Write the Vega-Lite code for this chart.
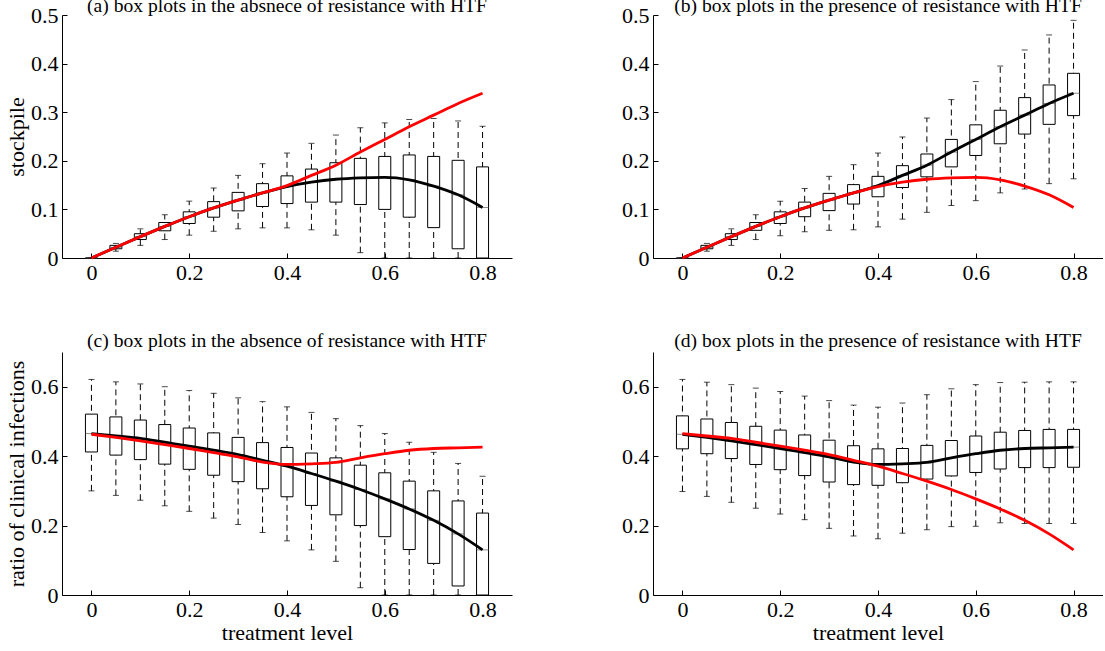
{
  "$schema": "https://vega.github.io/schema/vega-lite/v6.json",
  "background": "white",
  "padding": {"left": 5, "top": -4, "right": 0, "bottom": 0},
  "columns": 2,
  "bounds": "flush",
  "spacing": {"row": 94, "column": 141},
  "datasets": {
    "sa": [
      {"t": 0, "lo": 0, "q1": 0, "med": 0, "q3": 0, "hi": 0},
      {"t": 0.05, "lo": 0.014, "q1": 0.019, "med": 0.022, "q3": 0.026, "hi": 0.030},
      {"t": 0.1, "lo": 0.026, "q1": 0.038, "med": 0.044, "q3": 0.050, "hi": 0.060},
      {"t": 0.15, "lo": 0.038, "q1": 0.056, "med": 0.065, "q3": 0.073, "hi": 0.089},
      {"t": 0.2, "lo": 0.047, "q1": 0.071, "med": 0.085, "q3": 0.095, "hi": 0.117},
      {"t": 0.25, "lo": 0.055, "q1": 0.084, "med": 0.103, "q3": 0.116, "hi": 0.144},
      {"t": 0.3, "lo": 0.060, "q1": 0.097, "med": 0.119, "q3": 0.135, "hi": 0.170},
      {"t": 0.35, "lo": 0.062, "q1": 0.106, "med": 0.134, "q3": 0.153, "hi": 0.194},
      {"t": 0.4, "lo": 0.062, "q1": 0.112, "med": 0.147, "q3": 0.169, "hi": 0.216},
      {"t": 0.45, "lo": 0.058, "q1": 0.115, "med": 0.156, "q3": 0.183, "hi": 0.236},
      {"t": 0.5, "lo": 0.047, "q1": 0.115, "med": 0.162, "q3": 0.196, "hi": 0.253},
      {"t": 0.55, "lo": 0.011, "q1": 0.110, "med": 0.165, "q3": 0.205, "hi": 0.268},
      {"t": 0.6, "lo": 0, "q1": 0.100, "med": 0.166, "q3": 0.209, "hi": 0.278},
      {"t": 0.65, "lo": 0, "q1": 0.084, "med": 0.161, "q3": 0.212, "hi": 0.285},
      {"t": 0.7, "lo": 0, "q1": 0.0625, "med": 0.148, "q3": 0.209, "hi": 0.287},
      {"t": 0.75, "lo": 0, "q1": 0.019, "med": 0.130, "q3": 0.201, "hi": 0.282},
      {"t": 0.8, "lo": 0, "q1": 0, "med": 0.104, "q3": 0.1875, "hi": 0.271}
    ],
    "sp": [
      {"t": 0, "lo": 0, "q1": 0, "med": 0, "q3": 0, "hi": 0},
      {"t": 0.05, "lo": 0.014, "q1": 0.019, "med": 0.022, "q3": 0.026, "hi": 0.030},
      {"t": 0.1, "lo": 0.026, "q1": 0.038, "med": 0.044, "q3": 0.050, "hi": 0.060},
      {"t": 0.15, "lo": 0.038, "q1": 0.057, "med": 0.065, "q3": 0.073, "hi": 0.089},
      {"t": 0.2, "lo": 0.046, "q1": 0.071, "med": 0.085, "q3": 0.095, "hi": 0.117},
      {"t": 0.25, "lo": 0.054, "q1": 0.085, "med": 0.103, "q3": 0.115, "hi": 0.143},
      {"t": 0.3, "lo": 0.057, "q1": 0.0975, "med": 0.119, "q3": 0.133, "hi": 0.168},
      {"t": 0.35, "lo": 0.058, "q1": 0.111, "med": 0.134, "q3": 0.151, "hi": 0.192},
      {"t": 0.4, "lo": 0.064, "q1": 0.126, "med": 0.149, "q3": 0.168, "hi": 0.216},
      {"t": 0.45, "lo": 0.080, "q1": 0.145, "med": 0.170, "q3": 0.190, "hi": 0.249},
      {"t": 0.5, "lo": 0.094, "q1": 0.167, "med": 0.191, "q3": 0.214, "hi": 0.288},
      {"t": 0.55, "lo": 0.108, "q1": 0.1875, "med": 0.218, "q3": 0.244, "hi": 0.326},
      {"t": 0.6, "lo": 0.118, "q1": 0.211, "med": 0.244, "q3": 0.274, "hi": 0.363},
      {"t": 0.65, "lo": 0.134, "q1": 0.235, "med": 0.270, "q3": 0.304, "hi": 0.395},
      {"t": 0.7, "lo": 0.142, "q1": 0.255, "med": 0.294, "q3": 0.330, "hi": 0.428},
      {"t": 0.75, "lo": 0.153, "q1": 0.275, "med": 0.318, "q3": 0.356, "hi": 0.459},
      {"t": 0.8, "lo": 0.163, "q1": 0.293, "med": 0.339, "q3": 0.380, "hi": 0.489}
    ],
    "ca": [
      {"t": 0, "lo": 0.300, "q1": 0.412, "med": 0.465, "q3": 0.521, "hi": 0.621},
      {"t": 0.05, "lo": 0.287, "q1": 0.403, "med": 0.458, "q3": 0.513, "hi": 0.614},
      {"t": 0.1, "lo": 0.273, "q1": 0.390, "med": 0.451, "q3": 0.504, "hi": 0.608},
      {"t": 0.15, "lo": 0.257, "q1": 0.377, "med": 0.440, "q3": 0.491, "hi": 0.600},
      {"t": 0.2, "lo": 0.241, "q1": 0.362, "med": 0.429, "q3": 0.481, "hi": 0.589},
      {"t": 0.25, "lo": 0.2215, "q1": 0.345, "med": 0.417, "q3": 0.467, "hi": 0.581},
      {"t": 0.3, "lo": 0.203, "q1": 0.3265, "med": 0.4045, "q3": 0.454, "hi": 0.568},
      {"t": 0.35, "lo": 0.180, "q1": 0.306, "med": 0.388, "q3": 0.439, "hi": 0.557},
      {"t": 0.4, "lo": 0.156, "q1": 0.283, "med": 0.371, "q3": 0.425, "hi": 0.542},
      {"t": 0.45, "lo": 0.130, "q1": 0.258, "med": 0.350, "q3": 0.409, "hi": 0.526},
      {"t": 0.5, "lo": 0.097, "q1": 0.231, "med": 0.328, "q3": 0.395, "hi": 0.508},
      {"t": 0.55, "lo": 0.021, "q1": 0.200, "med": 0.304, "q3": 0.374, "hi": 0.488},
      {"t": 0.6, "lo": 0, "q1": 0.168, "med": 0.277, "q3": 0.352, "hi": 0.465},
      {"t": 0.65, "lo": 0, "q1": 0.131, "med": 0.248, "q3": 0.328, "hi": 0.440},
      {"t": 0.7, "lo": 0, "q1": 0.091, "med": 0.215, "q3": 0.300, "hi": 0.411},
      {"t": 0.75, "lo": 0, "q1": 0.026, "med": 0.176, "q3": 0.271, "hi": 0.379},
      {"t": 0.8, "lo": 0, "q1": 0, "med": 0.130, "q3": 0.236, "hi": 0.342}
    ],
    "cp": [
      {"t": 0, "lo": 0.298, "q1": 0.421, "med": 0.463, "q3": 0.516, "hi": 0.621},
      {"t": 0.05, "lo": 0.284, "q1": 0.407, "med": 0.454, "q3": 0.507, "hi": 0.613},
      {"t": 0.1, "lo": 0.267, "q1": 0.393, "med": 0.444, "q3": 0.497, "hi": 0.606},
      {"t": 0.15, "lo": 0.250, "q1": 0.376, "med": 0.433, "q3": 0.486, "hi": 0.596},
      {"t": 0.2, "lo": 0.233, "q1": 0.361, "med": 0.422, "q3": 0.475, "hi": 0.586},
      {"t": 0.25, "lo": 0.217, "q1": 0.344, "med": 0.410, "q3": 0.461, "hi": 0.573},
      {"t": 0.3, "lo": 0.192, "q1": 0.3255, "med": 0.398, "q3": 0.446, "hi": 0.560},
      {"t": 0.35, "lo": 0.170, "q1": 0.318, "med": 0.383, "q3": 0.430, "hi": 0.547},
      {"t": 0.4, "lo": 0.162, "q1": 0.316, "med": 0.376, "q3": 0.421, "hi": 0.541},
      {"t": 0.45, "lo": 0.178, "q1": 0.3235, "med": 0.378, "q3": 0.422, "hi": 0.553},
      {"t": 0.5, "lo": 0.188, "q1": 0.334, "med": 0.382, "q3": 0.431, "hi": 0.577},
      {"t": 0.55, "lo": 0.197, "q1": 0.343, "med": 0.395, "q3": 0.445, "hi": 0.594},
      {"t": 0.6, "lo": 0.198, "q1": 0.353, "med": 0.407, "q3": 0.458, "hi": 0.606},
      {"t": 0.65, "lo": 0.208, "q1": 0.363, "med": 0.417, "q3": 0.469, "hi": 0.612},
      {"t": 0.7, "lo": 0.206, "q1": 0.367, "med": 0.422, "q3": 0.474, "hi": 0.613},
      {"t": 0.75, "lo": 0.206, "q1": 0.367, "med": 0.424, "q3": 0.477, "hi": 0.614},
      {"t": 0.8, "lo": 0.206, "q1": 0.368, "med": 0.426, "q3": 0.477, "hi": 0.614}
    ]
  },
  "concat": [
    {
      "width": 450, "height": 243,
      "title": {"text": "(a) box plots in the absnece of resistance with HTF", "offset": -13},
      "encoding": {"x": {"field": "t", "type": "quantitative", "scale": {"domain": [-0.05, 0.85], "nice": false, "zero": false}, "axis": {"values": [0, 0.2, 0.4, 0.6, 0.8], "format": "~g", "title": null}}},
      "layer": [
        {"data": {"name": "sa"}, "mark": {"type": "rule", "strokeDash": [6, 4], "strokeWidth": 1, "color": "black"}, "encoding": {"y": {"field": "lo", "type": "quantitative", "scale": {"domain": [0, 0.5], "nice": false}, "axis": {"values": [0, 0.1, 0.2, 0.3, 0.4, 0.5], "format": "~g", "title": "stockpile"}}, "y2": {"field": "hi"}}},
        {"data": {"name": "sa"}, "mark": {"type": "tick", "orient": "horizontal", "size": 6, "thickness": 1, "color": "black"}, "encoding": {"y": {"field": "hi", "type": "quantitative"}}},
        {"data": {"name": "sa"}, "mark": {"type": "tick", "orient": "horizontal", "size": 6, "thickness": 1, "color": "black"}, "encoding": {"y": {"field": "lo", "type": "quantitative"}}},
        {"data": {"name": "sa"}, "mark": {"type": "bar", "width": 12, "fill": "white", "stroke": "black", "strokeWidth": 1}, "encoding": {"y": {"field": "q1", "type": "quantitative"}, "y2": {"field": "q3"}}},
        {"data": {"name": "sa"}, "mark": {"type": "tick", "orient": "horizontal", "size": 12, "thickness": 1, "color": "#555"}, "encoding": {"y": {"field": "med", "type": "quantitative"}}},
        {"data": {"name": "sa"}, "mark": {"type": "line", "color": "black", "strokeWidth": 2.8, "interpolate": "monotone"}, "encoding": {"y": {"field": "med", "type": "quantitative"}}},
        {"data": {"name": "sp"}, "mark": {"type": "line", "color": "red", "strokeWidth": 2.8, "interpolate": "monotone"}, "encoding": {"y": {"field": "med", "type": "quantitative"}}}
      ]
    },
    {
      "width": 450, "height": 243,
      "title": {"text": "(b) box plots in the presence of resistance with HTF", "offset": -13},
      "encoding": {"x": {"field": "t", "type": "quantitative", "scale": {"domain": [-0.05, 0.85], "nice": false, "zero": false}, "axis": {"values": [0, 0.2, 0.4, 0.6, 0.8], "format": "~g", "title": null}}},
      "layer": [
        {"data": {"name": "sp"}, "mark": {"type": "rule", "strokeDash": [6, 4], "strokeWidth": 1, "color": "black"}, "encoding": {"y": {"field": "lo", "type": "quantitative", "scale": {"domain": [0, 0.5], "nice": false}, "axis": {"values": [0, 0.1, 0.2, 0.3, 0.4, 0.5], "format": "~g", "title": null}}, "y2": {"field": "hi"}}},
        {"data": {"name": "sp"}, "mark": {"type": "tick", "orient": "horizontal", "size": 6, "thickness": 1, "color": "black"}, "encoding": {"y": {"field": "hi", "type": "quantitative"}}},
        {"data": {"name": "sp"}, "mark": {"type": "tick", "orient": "horizontal", "size": 6, "thickness": 1, "color": "black"}, "encoding": {"y": {"field": "lo", "type": "quantitative"}}},
        {"data": {"name": "sp"}, "mark": {"type": "bar", "width": 12, "fill": "white", "stroke": "black", "strokeWidth": 1}, "encoding": {"y": {"field": "q1", "type": "quantitative"}, "y2": {"field": "q3"}}},
        {"data": {"name": "sp"}, "mark": {"type": "tick", "orient": "horizontal", "size": 12, "thickness": 1, "color": "#555"}, "encoding": {"y": {"field": "med", "type": "quantitative"}}},
        {"data": {"name": "sp"}, "mark": {"type": "line", "color": "black", "strokeWidth": 2.8, "interpolate": "monotone"}, "encoding": {"y": {"field": "med", "type": "quantitative"}}},
        {"data": {"name": "sa"}, "mark": {"type": "line", "color": "red", "strokeWidth": 2.8, "interpolate": "monotone"}, "encoding": {"y": {"field": "med", "type": "quantitative"}}}
      ]
    },
    {
      "width": 450, "height": 243,
      "title": {"text": "(c) box plots in the absence of resistance with HTF", "offset": 0},
      "encoding": {"x": {"field": "t", "type": "quantitative", "scale": {"domain": [-0.05, 0.85], "nice": false, "zero": false}, "axis": {"values": [0, 0.2, 0.4, 0.6, 0.8], "format": "~g", "title": "treatment level"}}},
      "layer": [
        {"data": {"name": "ca"}, "mark": {"type": "rule", "strokeDash": [6, 4], "strokeWidth": 1, "color": "black"}, "encoding": {"y": {"field": "lo", "type": "quantitative", "scale": {"domain": [0, 0.7], "nice": false}, "axis": {"values": [0, 0.2, 0.4, 0.6], "format": "~g", "title": "ratio of clinical infections"}}, "y2": {"field": "hi"}}},
        {"data": {"name": "ca"}, "mark": {"type": "tick", "orient": "horizontal", "size": 6, "thickness": 1, "color": "black"}, "encoding": {"y": {"field": "hi", "type": "quantitative"}}},
        {"data": {"name": "ca"}, "mark": {"type": "tick", "orient": "horizontal", "size": 6, "thickness": 1, "color": "black"}, "encoding": {"y": {"field": "lo", "type": "quantitative"}}},
        {"data": {"name": "ca"}, "mark": {"type": "bar", "width": 12, "fill": "white", "stroke": "black", "strokeWidth": 1}, "encoding": {"y": {"field": "q1", "type": "quantitative"}, "y2": {"field": "q3"}}},
        {"data": {"name": "ca"}, "mark": {"type": "tick", "orient": "horizontal", "size": 12, "thickness": 1, "color": "#555"}, "encoding": {"y": {"field": "med", "type": "quantitative"}}},
        {"data": {"name": "ca"}, "mark": {"type": "line", "color": "black", "strokeWidth": 2.8, "interpolate": "monotone"}, "encoding": {"y": {"field": "med", "type": "quantitative"}}},
        {"data": {"name": "cp"}, "mark": {"type": "line", "color": "red", "strokeWidth": 2.8, "interpolate": "monotone"}, "encoding": {"y": {"field": "med", "type": "quantitative"}}}
      ]
    },
    {
      "width": 450, "height": 243,
      "title": {"text": "(d) box plots in the presence of resistance with HTF", "offset": 0},
      "encoding": {"x": {"field": "t", "type": "quantitative", "scale": {"domain": [-0.05, 0.85], "nice": false, "zero": false}, "axis": {"values": [0, 0.2, 0.4, 0.6, 0.8], "format": "~g", "title": "treatment level"}}},
      "layer": [
        {"data": {"name": "cp"}, "mark": {"type": "rule", "strokeDash": [6, 4], "strokeWidth": 1, "color": "black"}, "encoding": {"y": {"field": "lo", "type": "quantitative", "scale": {"domain": [0, 0.7], "nice": false}, "axis": {"values": [0, 0.2, 0.4, 0.6], "format": "~g", "title": null}}, "y2": {"field": "hi"}}},
        {"data": {"name": "cp"}, "mark": {"type": "tick", "orient": "horizontal", "size": 6, "thickness": 1, "color": "black"}, "encoding": {"y": {"field": "hi", "type": "quantitative"}}},
        {"data": {"name": "cp"}, "mark": {"type": "tick", "orient": "horizontal", "size": 6, "thickness": 1, "color": "black"}, "encoding": {"y": {"field": "lo", "type": "quantitative"}}},
        {"data": {"name": "cp"}, "mark": {"type": "bar", "width": 12, "fill": "white", "stroke": "black", "strokeWidth": 1}, "encoding": {"y": {"field": "q1", "type": "quantitative"}, "y2": {"field": "q3"}}},
        {"data": {"name": "cp"}, "mark": {"type": "tick", "orient": "horizontal", "size": 12, "thickness": 1, "color": "#555"}, "encoding": {"y": {"field": "med", "type": "quantitative"}}},
        {"data": {"name": "cp"}, "mark": {"type": "line", "color": "black", "strokeWidth": 2.8, "interpolate": "monotone"}, "encoding": {"y": {"field": "med", "type": "quantitative"}}},
        {"data": {"name": "ca"}, "mark": {"type": "line", "color": "red", "strokeWidth": 2.8, "interpolate": "monotone"}, "encoding": {"y": {"field": "med", "type": "quantitative"}}}
      ]
    }
  ],
  "config": {
    "font": "Liberation Serif",
    "view": {"stroke": null},
    "axis": {"grid": false, "domainColor": "black", "domainWidth": 1, "tickColor": "black", "tickSize": -5, "labelPadding": 9, "labelFontSize": 22, "labelColor": "black", "labelFont": "Liberation Serif", "labelFlush": false, "titleFontSize": 22, "titleFontWeight": "normal", "titleColor": "black", "titleFont": "Liberation Serif", "titlePadding": 2},
    "title": {"fontSize": 19.6, "fontWeight": "normal", "color": "black", "font": "Liberation Serif"}
  }
}
